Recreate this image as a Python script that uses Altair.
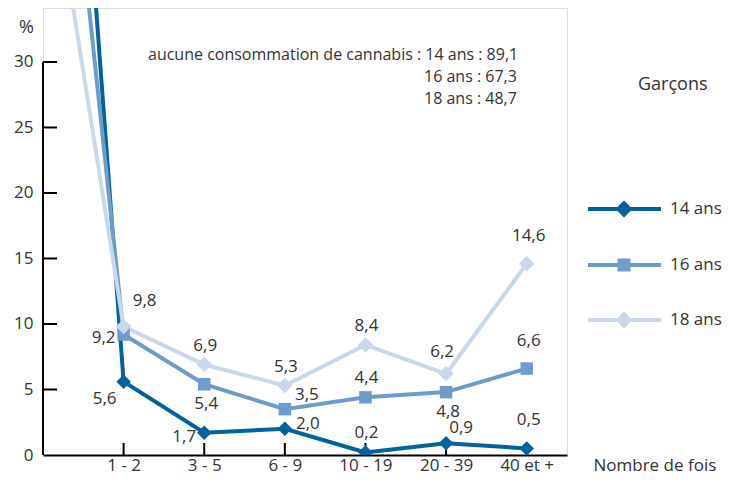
import json
import altair as alt
import pandas as pd

# ---------------- data ----------------
categories = ["0", "1 - 2", "3 - 5", "6 - 9", "10 - 19", "20 - 39", "40 et +"]
ages = ["14 ans", "16 ans", "18 ans"]
values_14 = [89.1, 5.6, 1.7, 2.0, 0.2, 0.9, 0.5]
values_16 = [67.3, 9.2, 5.4, 3.5, 4.4, 4.8, 6.6]
values_18 = [48.7, 9.8, 6.9, 5.3, 8.4, 6.2, 14.6]
label_pos_14 = ["", "leftbelow", "left", "right", "above", "rightup", "high"]
label_pos_16 = ["", "left", "below", "right2", "above", "below", "high"]
label_pos_18 = ["", "rightup2", "above", "above", "above", "aboveleft", "high"]
y_ticks = [5, 10, 15, 20, 25, 30]
y_labels = [0, 5, 10, 15, 20, 25, 30]
legend_title = "Garçons"
x_title = "Nombre de fois"
y_title = "%"
annot_prefix = "aucune consommation de cannabis : "

# ---------------- styles ----------------
colors = ["#00629f", "#6f9bcc", "#c9d7eb"]
shapes = ["diamond", "square", "diamond"]
point_sizes = [210, 156, 240]
FONT = "Open Sans"
TXT = "#333333"
FS = 17
W, H = 524, 447
Y_TOP = 34.12
X_MAX = 6.5

offsets = {
    "above": (1, -19),
    "aboveleft": (-4, -22),
    "high": (2, -28),
    "below": (2, 20),
    "left": (-20, 4),
    "leftbelow": (-19, 17),
    "right": (23, -5),
    "right2": (22, -14),
    "rightup": (15, -15),
    "rightup2": (21, -26),
}


def fr(v):
    return f"{v:.1f}".replace(".", ",")


rows = []
for age, vals, poss in zip(ages, [values_14, values_16, values_18],
                           [label_pos_14, label_pos_16, label_pos_18]):
    for i, (v, p) in enumerate(zip(vals, poss)):
        rows.append(dict(idx=i, cat=categories[i], age=age, value=v, label=fr(v), pos=p))
df = pd.DataFrame(rows)

label_expr = json.dumps([""] + categories[1:]) + "[datum.value]"

x_axis = alt.Axis(values=list(range(1, len(categories))), labelExpr=label_expr,
                  domain=True, domainColor="black", domainWidth=2, ticks=False,
                  grid=False, labelFont=FONT, labelFontSize=FS, labelColor=TXT,
                  labelPadding=10, labelBaseline="middle",
                  title=x_title, titleX=550, titleY=10, titleAlign="left",
                  titleBaseline="middle", titleFont=FONT, titleFontSize=FS,
                  titleFontWeight="normal", titleColor=TXT)
y_axis = alt.Axis(values=y_labels, domain=False, ticks=False, grid=False,
                  labelFont=FONT, labelFontSize=FS, labelColor=TXT, labelPadding=10,
                  title=y_title, titleAngle=0, titleX=-17, titleY=19,
                  titleAlign="center", titleBaseline="middle", titleFont=FONT,
                  titleFontSize=18, titleFontWeight="normal", titleColor=TXT)

x_scale = alt.Scale(domain=[0, X_MAX], nice=False, zero=False)
y_scale = alt.Scale(domain=[0, Y_TOP], nice=False, zero=False)
X = alt.X("idx:Q", scale=x_scale, axis=x_axis)
Y = alt.Y("value:Q", scale=y_scale, axis=y_axis)

layers = []

# y axis line and inner ticks
axis_df = pd.DataFrame({"value": [0], "value2": [y_ticks[-1]]})
layers.append(alt.Chart(axis_df).mark_rule(color="black", strokeWidth=2).encode(
    x=alt.value(0), y=Y, y2="value2:Q"))
layers.append(alt.Chart(pd.DataFrame({"value": y_ticks})).mark_rule(
    color="black", strokeWidth=2).encode(x=alt.value(0), x2=alt.value(14), y=Y))
layers.append(alt.Chart(pd.DataFrame({"idx": list(range(1, len(categories)))})).mark_rule(
    color="black", strokeWidth=2).encode(x=X, y=alt.value(H - 12), y2=alt.value(H)))

# lines
for age, c in zip(ages, colors):
    layers.append(alt.Chart(df).transform_filter(alt.datum.age == age).mark_line(
        color=c, strokeWidth=4, clip=True).encode(x=X, y=Y, order="idx:Q"))

# points
for age, c, s, sz in zip(ages, colors, shapes, point_sizes):
    layers.append(alt.Chart(df).transform_filter(
        (alt.datum.age == age) & (alt.datum.idx >= 1)).mark_point(
        color=c, filled=True, opacity=1, shape=s, size=sz, clip=True).encode(x=X, y=Y))

# value labels
for key, (dx, dy) in offsets.items():
    layers.append(alt.Chart(df).transform_filter(alt.datum.pos == key).mark_text(
        dx=dx, dy=dy, font=FONT, fontSize=FS, color=TXT, align="center",
        baseline="middle").encode(x=X, y=Y, text="label:N"))

# legend (symbols: line + marker)
R = 15.0
line_len = 73.0
marker_c = 36.0 / R - 1
lt = 2.0 / R
rect = f"M-1,{-lt:.3f}H{line_len / R - 1:.3f}V{lt:.3f}H-1Z"


def marker_path(shape, half_px):
    h = half_px / R
    if shape == "diamond":
        return (f"M{marker_c:.3f},{-h:.3f}L{marker_c + h:.3f},0L{marker_c:.3f},{h:.3f}"
                f"L{marker_c - h:.3f},0Z")
    return (f"M{marker_c - h:.3f},{-h:.3f}H{marker_c + h:.3f}V{h:.3f}H{marker_c - h:.3f}Z")


legend_paths = [rect + " " + marker_path(s, hp) for s, hp in zip(shapes, [8.5, 6.5, 8.5])]
leg = alt.Legend(title=None, orient="none", legendX=545, legendY=186, padding=0,
                 labelFont=FONT, labelFontSize=FS, labelColor=TXT, labelOffset=52,
                 symbolSize=R * R * 4, symbolStrokeWidth=0, rowPadding=32)
layers.append(alt.Chart(df).transform_filter(alt.datum.idx == 0).mark_point(
    filled=True, opacity=1, size=R * R * 4, clip=True).encode(
    x=X, y=Y,
    color=alt.Color("age:N", scale=alt.Scale(domain=ages, range=colors), legend=leg),
    shape=alt.Shape("age:N", scale=alt.Scale(domain=ages, range=legend_paths), legend=leg)))

# annotations
one = pd.DataFrame({"a": [0]})
annots = [
    (annot_prefix + f"{ages[0]} : {fr(values_14[0])}", 105, 47, 16),
    (f"{ages[1]} : {fr(values_16[0])}", 381, 69, 16),
    (f"{ages[2]} : {fr(values_18[0])}", 381, 91, 16),
    (legend_title, 595, 77, 18),
]
for t, px, py, fs in annots:
    layers.append(alt.Chart(one).mark_text(
        text=t, align="left", baseline="middle", font=FONT, fontSize=fs,
        color=TXT).encode(x=alt.value(px), y=alt.value(py)))

chart = alt.layer(*layers).properties(
    width=W, height=H,
    padding={"left": 35, "top": 0, "right": 156, "bottom": 18},
    autosize=alt.AutoSizeParams(type="none"),
).configure_view(stroke=None).configure(font=FONT)

chart.save("out.html", embed_options={"renderer": "svg", "actions": False})
